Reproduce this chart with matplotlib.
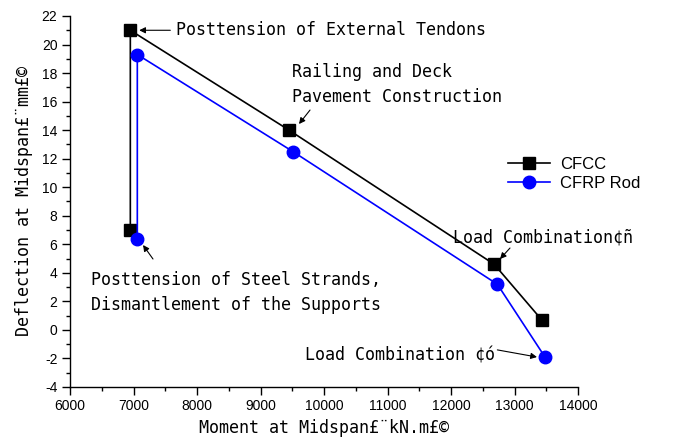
import matplotlib
matplotlib.use("Agg")
import matplotlib.pyplot as plt

# --- data (in loading order) ---
cfcc_moment = [6950, 6950, 9450, 12680, 13430]
cfcc_defl = [7.0, 21.0, 14.0, 4.6, 0.7]

cfrp_moment = [7060, 7060, 9510, 12730, 13480]
cfrp_defl = [6.4, 19.3, 12.5, 3.2, -1.9]

series_names = ["CFCC", "CFRP Rod"]
x_ticks = [6000, 7000, 8000, 9000, 10000, 11000, 12000, 13000, 14000]
y_ticks = [-4, -2, 0, 2, 4, 6, 8, 10, 12, 14, 16, 18, 20, 22]

plt.rcParams['font.family'] = ['Liberation Sans', 'DejaVu Sans']
plt.rcParams['axes.unicode_minus'] = False
mono = 'DejaVu Sans Mono'

fig = plt.figure(figsize=(6.76, 4.45), dpi=100)
ax = fig.add_axes([70/676, 1 - 387/445, 508/676, 371/445])

ax.plot(cfcc_moment, cfcc_defl, color='black', lw=1.2, marker='s', ms=8,
        label=series_names[0])
ax.plot(cfrp_moment, cfrp_defl, color='blue', lw=1.2, marker='o', ms=9,
        label=series_names[1])

ax.set_xlim(6000, 14000)
ax.set_ylim(-4, 22)
ax.set_xticks(x_ticks)
ax.set_yticks(y_ticks)
ax.set_xticks([t + 500 for t in x_ticks[:-1]], minor=True)
ax.set_yticks([t + 1 for t in y_ticks[:-1]], minor=True)
ax.tick_params(which='major', direction='out', length=6, width=1, labelsize=10)
ax.tick_params(which='minor', direction='out', length=3, width=1)
ax.tick_params(axis='both', pad=3)
for s in ['top', 'right']:
    ax.spines[s].set_visible(False)
for s in ['left', 'bottom']:
    ax.spines[s].set_linewidth(1.0)

ax.set_xlabel("Moment at Midspan£¨kN.m£©", family=mono, fontsize=12, labelpad=4)
ax.set_ylabel("Deflection at Midspan£¨mm£©", family=mono, fontsize=12, labelpad=6)

# --- annotations ---
arrow = dict(arrowstyle='-|>', color='black', lw=0.8, mutation_scale=9,
             shrinkA=0, shrinkB=0)
ann = dict(family=mono, fontsize=12, ha='left', va='center')

ax.text(7670, 21.0, "Posttension of External Tendons", **ann)
ax.annotate('', xy=(7090, 21.0), xytext=(7580, 21.0), arrowprops=arrow)

ax.text(9496, 17.2, "Railing and Deck\nPavement Construction",
        linespacing=1.45, **ann)
ax.annotate('', xy=(9606, 14.43), xytext=(9780, 15.41), arrowprops=arrow)

ax.text(12031, 6.5, "Load Combination¢ñ", **ann)
ax.annotate('', xy=(12772, 4.97), xytext=(12929, 5.74), arrowprops=arrow)

ax.text(9700, -1.76, "Load Combination ¢ó", **ann)
ax.annotate('', xy=(13354, -1.90), xytext=(12730, -1.40), arrowprops=arrow)

ax.text(6331, 2.63, "Posttension of Steel Strands,\nDismantlement of the Supports",
        linespacing=1.45, **ann)
ax.annotate('', xy=(7150, 5.95), xytext=(7307, 4.97), arrowprops=arrow)

leg = ax.legend(loc='upper left', bbox_to_anchor=(508/676, 1 - 157/445),
                bbox_transform=fig.transFigure, frameon=False, fontsize=12,
                handlelength=2.5, handletextpad=0.6, labelspacing=0.25,
                borderpad=0, borderaxespad=0)

fig.savefig("out.png", dpi=100)
